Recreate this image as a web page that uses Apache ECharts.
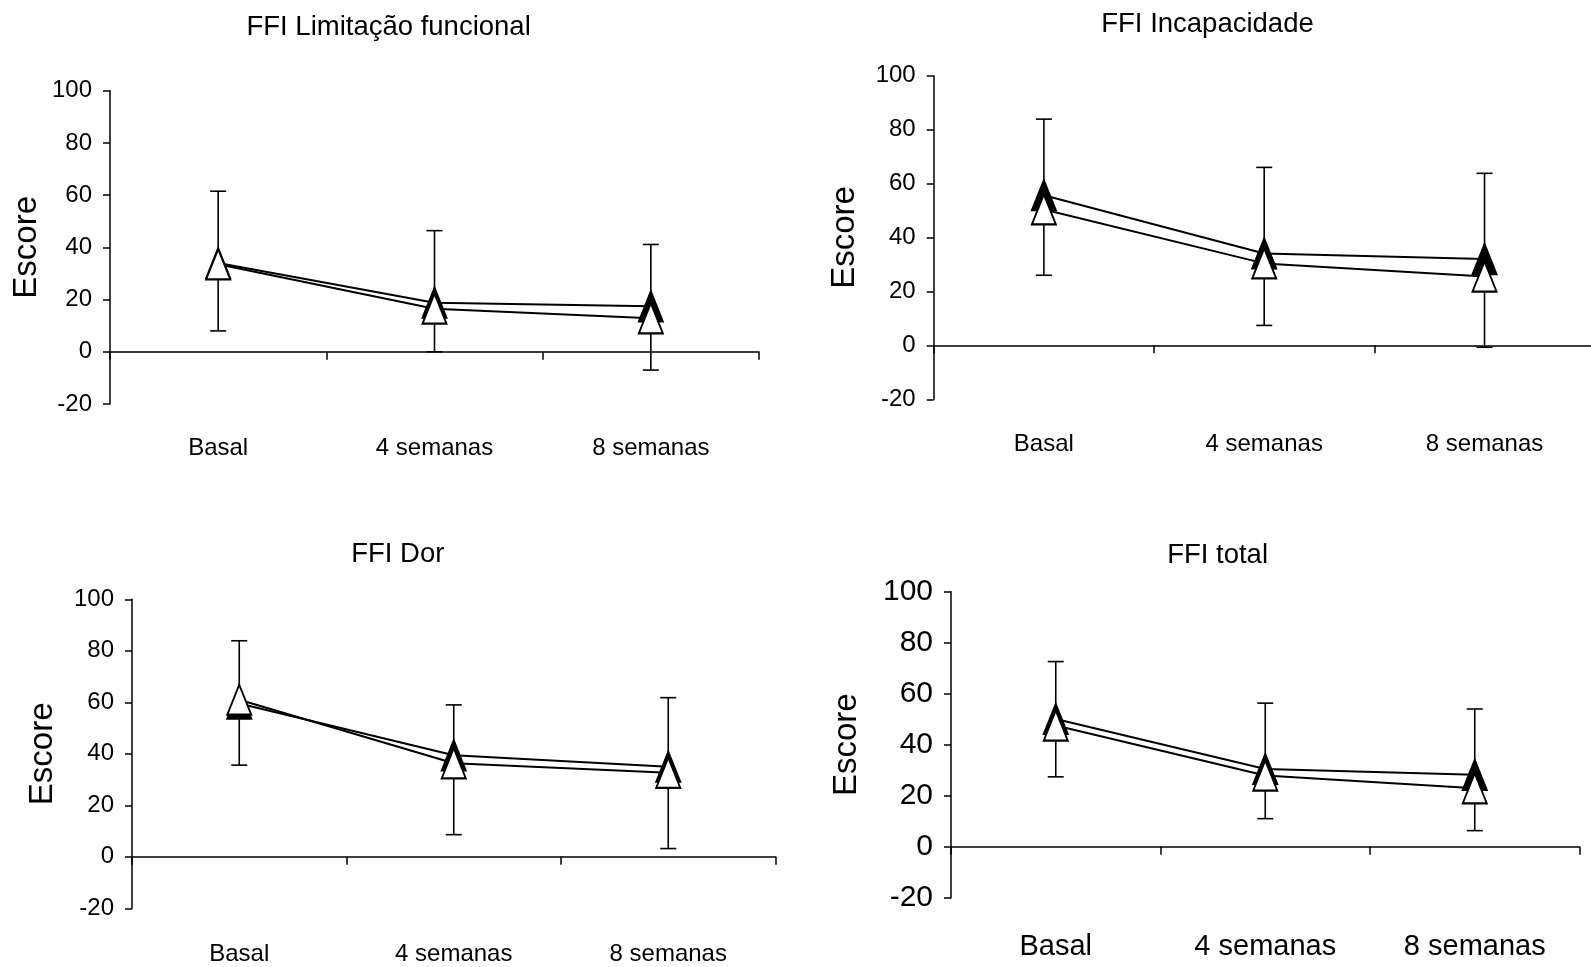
<!DOCTYPE html>
<html>
<head>
<meta charset="utf-8">
<script src="https://cdn.jsdelivr.net/npm/echarts@6/dist/echarts.min.js"></script>
<style>
html,body{margin:0;padding:0;background:#fff;}
#c{width:1591px;height:967px;}
</style>
</head>
<body>
<div id="c"></div>
<script>
// ---- data ----
const categories = ['Basal', '4 semanas', '8 semanas'];
const titles = ['FFI Limitação funcional', 'FFI Incapacidade', 'FFI Dor', 'FFI total'];
const yAxisName = 'Escore';
const yMin = -20, yMax = 100, yStep = 20;

const limFilled = [34.0, 18.8, 17.4];
const limOpen   = [33.5, 16.5, 12.8];
const limErrHigh = [61.5, 46.4, 41.1];
const limErrLow  = [8.0, 0.0, -7.0];

const incFilled = [55.7, 34.1, 32.0];
const incOpen   = [50.4, 30.4, 25.5];
const incErrHigh = [83.9, 66.0, 63.8];
const incErrLow  = [26.0, 7.4, -0.7];

const dorFilled = [59.5, 39.4, 35.0];
const dorOpen   = [61.0, 36.3, 32.6];
const dorErrHigh = [83.9, 59.0, 61.8];
const dorErrLow  = [35.6, 8.6, 3.2];

const totFilled = [50.1, 30.5, 28.2];
const totOpen   = [47.5, 27.9, 22.9];
const totErrHigh = [72.6, 56.3, 54.0];
const totErrLow  = [27.4, 11.0, 6.3];

// ---- layout (not data) ----
const FONT = "'Liberation Sans', Arial, sans-serif";
const panels = [
  {filled: limFilled, open: limOpen, hi: limErrHigh, lo: limErrLow,
   grid: {left: 110, top: 90.7, width: 649, height: 313.3},
   title: {x: 388.6, y: 13}, tick: 24, cat: 24, nameGap: 67, catMargin: 32},
  {filled: incFilled, open: incOpen, hi: incErrHigh, lo: incErrLow,
   grid: {left: 933.7, top: 75.7, width: 661, height: 323.6},
   title: {x: 1207.5, y: 10}, tick: 24, cat: 24, nameGap: 72, catMargin: 33},
  {filled: dorFilled, open: dorOpen, hi: dorErrHigh, lo: dorErrLow,
   grid: {left: 132, top: 599.3, width: 643.5, height: 309},
   title: {x: 397.8, y: 540.5}, tick: 24, cat: 24, nameGap: 73, catMargin: 34},
  {filled: totFilled, open: totOpen, hi: totErrHigh, lo: totErrLow,
   grid: {left: 951, top: 591.7, width: 628.5, height: 306},
   title: {x: 1217.6, y: 541.5}, tick: 30, cat: 29, nameGap: 88, catMargin: 35}
];

function renderErr(params, api) {
  const x = api.value(0), hi = api.value(1), lo = api.value(2);
  const t = api.coord([x, hi]);
  const b = api.coord([x, lo]);
  const w = 8;
  const st = {stroke: '#000', lineWidth: 1.6};
  return {
    type: 'group',
    children: [
      {type: 'line', shape: {x1: t[0], y1: t[1], x2: b[0], y2: b[1]}, style: st},
      {type: 'line', shape: {x1: t[0] - w, y1: t[1], x2: t[0] + w, y2: t[1]}, style: st},
      {type: 'line', shape: {x1: b[0] - w, y1: b[1], x2: b[0] + w, y2: b[1]}, style: st}
    ]
  };
}

const option = {
  backgroundColor: '#fff',
  animation: false,
  title: [], grid: [], xAxis: [], yAxis: [], series: []
};

panels.forEach((p, i) => {
  option.title.push({
    text: titles[i], left: p.title.x, top: p.title.y, textAlign: 'center', padding: 0,
    textStyle: {fontFamily: FONT, fontSize: 27.5, fontWeight: 'normal', color: '#000'}
  });
  option.grid.push(Object.assign({containLabel: false, outerBoundsMode: 'none'}, p.grid));
  option.xAxis.push({
    type: 'category', gridIndex: i, data: categories, boundaryGap: true,
    axisLine: {show: true, onZero: true, lineStyle: {color: '#000', width: 1.5}},
    axisTick: {show: true, length: 8, lineStyle: {color: '#000', width: 1.5}},
    axisLabel: {fontFamily: FONT, fontSize: p.cat, color: '#000', margin: p.catMargin},
    splitLine: {show: false}
  });
  option.yAxis.push({
    type: 'value', gridIndex: i, min: yMin, max: yMax, interval: yStep,
    name: yAxisName, nameLocation: 'middle', nameRotate: 90, nameGap: p.nameGap,
    nameTextStyle: {fontFamily: FONT, fontSize: 33, color: '#000'},
    axisLine: {show: true, lineStyle: {color: '#000', width: 1.5}},
    axisTick: {show: true, length: 7, lineStyle: {color: '#000', width: 1.5}},
    axisLabel: {fontFamily: FONT, fontSize: p.tick, color: '#000', margin: 18},
    splitLine: {show: false}
  });
  option.series.push({
    type: 'custom', xAxisIndex: i, yAxisIndex: i, z: 1,
    renderItem: renderErr,
    encode: {x: 0, y: [1, 2]},
    data: categories.map((c, k) => [k, p.hi[k], p.lo[k]])
  });
  option.series.push({
    type: 'line', xAxisIndex: i, yAxisIndex: i, z: 2,
    data: p.filled,
    symbol: 'triangle', symbolSize: [24, 30],
    lineStyle: {color: '#000', width: 2},
    itemStyle: {color: '#000', borderColor: '#000', borderWidth: 2}
  });
  option.series.push({
    type: 'line', xAxisIndex: i, yAxisIndex: i, z: 3,
    data: p.open,
    symbol: 'triangle', symbolSize: [24, 30],
    lineStyle: {color: '#000', width: 2},
    itemStyle: {color: '#fff', borderColor: '#000', borderWidth: 2}
  });
});

const chart = echarts.init(document.getElementById('c'), null, {renderer: 'canvas'});
chart.setOption(option);
</script>
</body>
</html>
